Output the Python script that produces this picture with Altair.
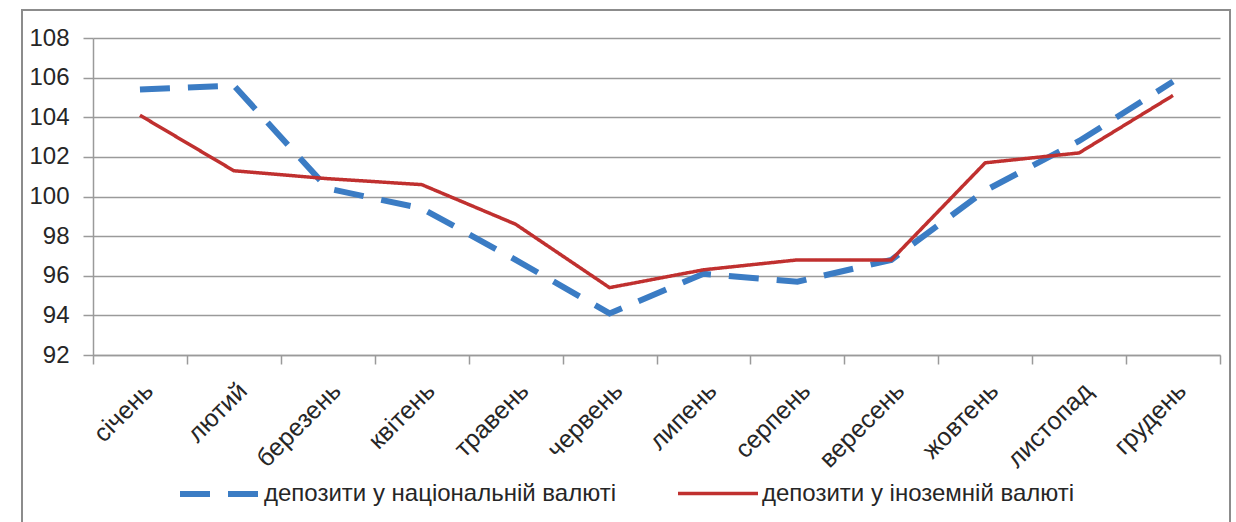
import altair as alt
import pandas as pd

months = ["січень", "лютий", "березень", "квітень", "травень", "червень",
          "липень", "серпень", "вересень", "жовтень", "листопад", "грудень"]
series_names = ["депозити у національній валюті", "депозити у іноземній валюті"]
national = [105.4, 105.6, 100.4, 99.4, 96.8, 94.1, 96.1, 95.7, 96.8, 100.3, 102.8, 105.8]
foreign = [104.1, 101.3, 100.9, 100.6, 98.6, 95.4, 96.3, 96.8, 96.8, 101.7, 102.2, 105.1]
y_ticks = [92, 94, 96, 98, 100, 102, 104, 106, 108]

rows = []
for name, vals in zip(series_names, [national, foreign]):
    for m, v in zip(months, vals):
        rows.append({"month": m, "series": name, "value": v})
df = pd.DataFrame(rows)

FONT = "Liberation Sans"

lines = alt.Chart(df).mark_line().encode(
    x=alt.X("month:N", sort=months, title=None, bandPosition=0.5,
            scale=alt.Scale(type="band", paddingInner=0, paddingOuter=0),
            axis=alt.Axis(labelAngle=-45, labelFontSize=25, labelColor="#262626",
                          labelFont=FONT, tickBand="extent", tickSize=9,
                          tickColor="#9a9a9a", domainColor="#9a9a9a",
                          tickWidth=1.5, domainWidth=1.5, labelPadding=14,
                          grid=False)),
    y=alt.Y("value:Q", title=None,
            scale=alt.Scale(domain=[92, 108], nice=False, zero=False),
            axis=alt.Axis(values=y_ticks, labelFontSize=24, labelColor="#262626",
                          labelFont=FONT, tickSize=10, tickColor="#9a9a9a",
                          domainColor="#9a9a9a", tickWidth=1.5, domainWidth=1.5,
                          gridColor="#9a9a9a", gridWidth=1.5, labelPadding=14)),
    color=alt.Color("series:N", sort=series_names,
                    scale=alt.Scale(domain=series_names, range=["#3b7cc4", "#c0302f"]),
                    legend=alt.Legend(title=None, orient="none", direction="horizontal",
                                      legendX=84, legendY=413, columns=2,
                                      columnPadding=55, labelFontSize=24,
                                      labelFont=FONT, labelColor="#262626",
                                      symbolType="stroke", symbolSize=6400,
                                      labelOffset=1, labelLimit=0)),
    strokeDash=alt.StrokeDash("series:N", sort=series_names,
                              scale=alt.Scale(domain=series_names, range=[[30, 18], [1, 0]])),
    strokeWidth=alt.StrokeWidth("series:N", sort=series_names,
                                scale=alt.Scale(domain=series_names, range=[6, 3.5])),
)

border = alt.Chart(pd.DataFrame({"a": [0]})).mark_rect(
    filled=False, stroke="#8c8c8c", strokeWidth=2
).encode(
    x=alt.value(-71), x2=alt.value(1137), y=alt.value(-28), y2=alt.value(500)
)

chart = alt.layer(border, lines).properties(
    width=1127, height=317,
    autosize=alt.AutoSizeParams(type="none"),
    padding={"left": 93, "top": 38, "right": 16, "bottom": 167},
    background="white",
).configure_view(stroke=None)

chart.save("out.html", embed_options={"renderer": "svg", "actions": False})
